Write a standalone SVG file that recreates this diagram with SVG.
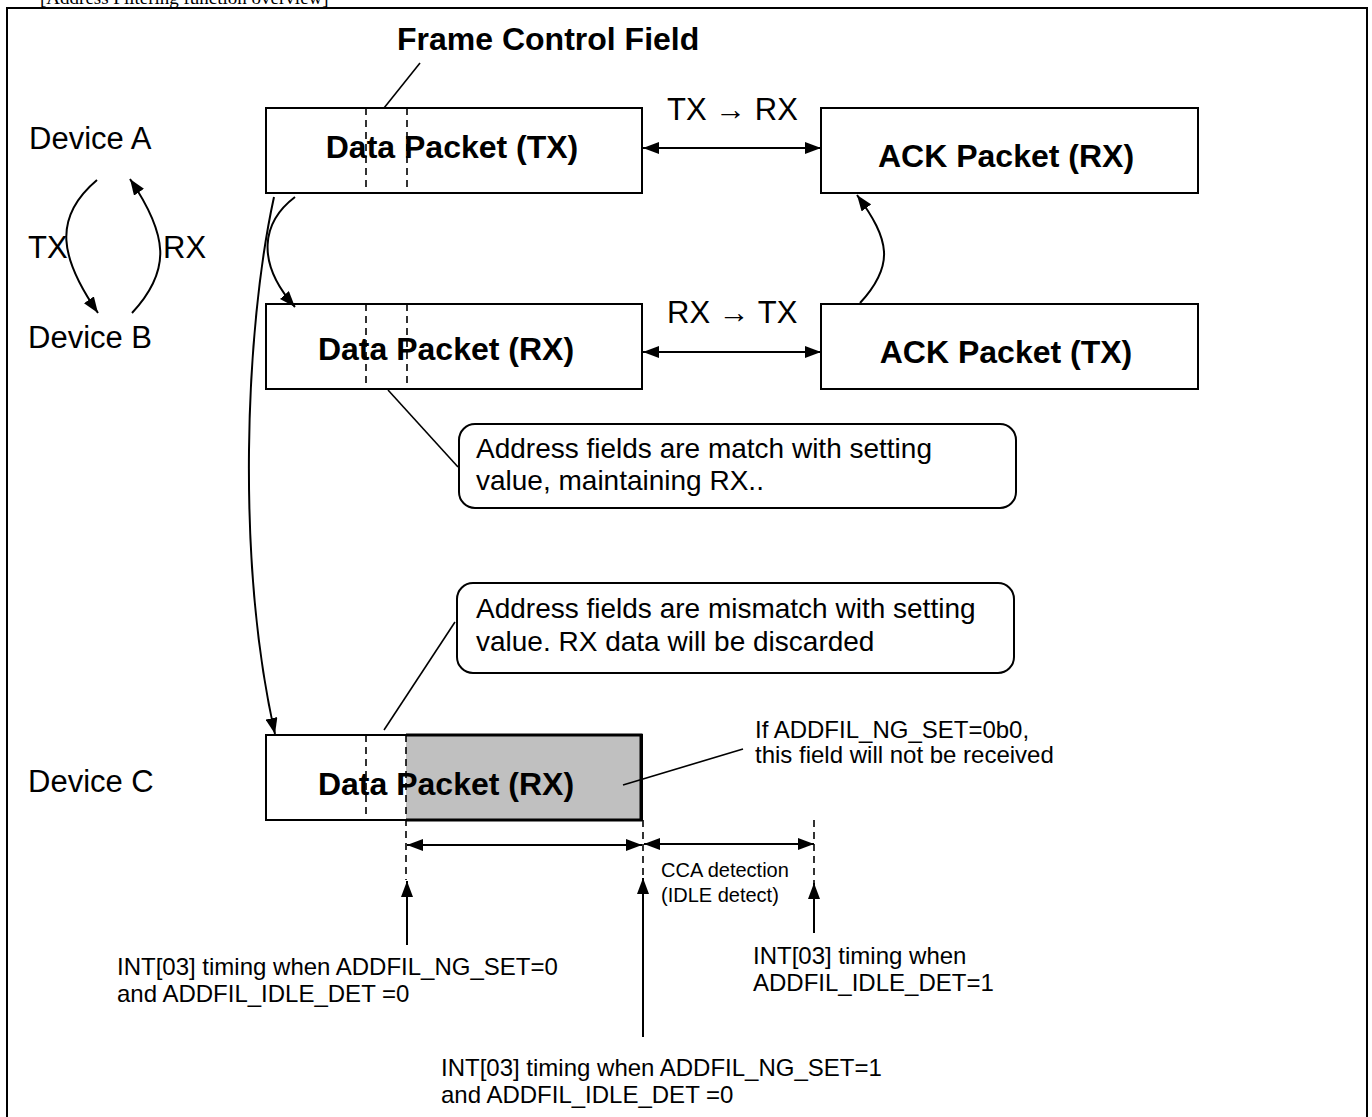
<svg xmlns="http://www.w3.org/2000/svg" width="1372" height="1117" viewBox="0 0 1372 1117">
<style>
.box{fill:#fff;stroke:#000;stroke-width:2}
.dash{stroke:#000;stroke-width:1.6;stroke-dasharray:7,5;fill:none}
.ln{stroke:#000;stroke-width:1.6;fill:none}
.arr{stroke:#000;stroke-width:2;fill:none}
.t{font-family:"Liberation Sans",Arial,sans-serif;fill:#000}
.big{font-size:31px}
.bold{font-size:32px;font-weight:bold}
.call{font-size:28px}
.mid{font-size:24px}
.sm{font-size:20px}
.callout{fill:#fff;stroke:#000;stroke-width:2}
</style>
<defs>
<marker id="ah" viewBox="0 0 16 12" refX="16" refY="6" markerWidth="16" markerHeight="12" markerUnits="userSpaceOnUse" orient="auto-start-reverse"><path d="M0,0 L16,6 L0,12 z" fill="#000"/></marker>
</defs>
<rect width="1372" height="1117" fill="#fff"/>
<g id="frame">
<rect x="7" y="8" width="1360" height="1130" fill="none" stroke="#000" stroke-width="2"/>
<text x="40" y="4" font-family="'Liberation Serif','Times New Roman',serif" font-size="19">[Address Filtering function overview]</text>
</g>
<g id="device-labels">
<text class="t big" x="29" y="149">Device A</text>
<text class="t big" x="28" y="348">Device B</text>
<text class="t big" x="28" y="792">Device C</text>
<text class="t big" x="28" y="258">TX</text>
<text class="t big" x="163" y="258">RX</text>
</g>
<g id="frame-control-label">
<text class="t bold" x="397" y="50">Frame Control Field</text>
</g>
<g id="data-packet-tx">
<rect class="box" x="266" y="108" width="376" height="85"/>
<line class="dash" x1="366" y1="108" x2="366" y2="193"/>
<line class="dash" x1="407" y1="108" x2="407" y2="193"/>
<text class="t bold" x="452" y="158" text-anchor="middle">Data Packet (TX)</text>
</g>
<g id="ack-packet-rx">
<rect class="box" x="821" y="108" width="377" height="85"/>
<text class="t bold" x="1006" y="167" text-anchor="middle">ACK Packet (RX)</text>
</g>
<g id="data-packet-rx-b">
<rect class="box" x="266" y="304" width="376" height="85"/>
<line class="dash" x1="366" y1="304" x2="366" y2="389"/>
<line class="dash" x1="407" y1="304" x2="407" y2="389"/>
<text class="t bold" x="446" y="360" text-anchor="middle">Data Packet (RX)</text>
</g>
<g id="ack-packet-tx">
<rect class="box" x="821" y="304" width="377" height="85"/>
<text class="t bold" x="1006" y="363" text-anchor="middle">ACK Packet (TX)</text>
</g>
<g id="callout-match">
<rect class="callout" x="459" y="424" width="557" height="84" rx="16"/>
<text class="t call" x="476" y="458">Address fields are match with setting</text>
<text class="t call" x="476" y="490">value, maintaining RX..</text>
</g>
<g id="callout-mismatch">
<rect class="callout" x="457" y="583" width="557" height="90" rx="16"/>
<text class="t call" x="476" y="618">Address fields are mismatch with setting</text>
<text class="t call" x="476" y="651">value. RX data will be discarded</text>
</g>
<g id="data-packet-rx-c">
<rect class="box" x="266" y="735" width="376" height="85"/>
<path d="M406,735 H641 V820 H406" fill="#c0c0c0" stroke="#000" stroke-width="3"/>
<line class="dash" x1="366" y1="735" x2="366" y2="820"/>
<line class="dash" x1="406" y1="735" x2="406" y2="880"/>
<line class="dash" x1="643" y1="820" x2="643" y2="878"/>
<line class="dash" x1="814" y1="820" x2="814" y2="883"/>
<text class="t bold" x="446" y="795" text-anchor="middle">Data Packet (RX)</text>
</g>
<g id="annotations">
<text class="t mid" x="755" y="738">If ADDFIL_NG_SET=0b0,</text>
<text class="t mid" x="755" y="763">this field will not be received</text>
<text class="t sm" x="661" y="877">CCA detection</text>
<text class="t sm" x="661" y="902">(IDLE detect)</text>
<text class="t mid" x="117" y="975">INT[03] timing when ADDFIL_NG_SET=0</text>
<text class="t mid" x="117" y="1002">and ADDFIL_IDLE_DET =0</text>
<text class="t mid" x="753" y="964">INT[03] timing when</text>
<text class="t mid" x="753" y="991">ADDFIL_IDLE_DET=1</text>
<text class="t mid" x="441" y="1076">INT[03] timing when ADDFIL_NG_SET=1</text>
<text class="t mid" x="441" y="1103">and ADDFIL_IDLE_DET =0</text>
</g>
<g id="connectors">
<line class="ln" x1="420" y1="63" x2="384" y2="108"/>
<line class="arr" x1="643" y1="148" x2="821" y2="148" marker-start="url(#ah)" marker-end="url(#ah)"/>
<text class="t big" x="667" y="120">TX → RX</text>
<line class="arr" x1="643" y1="352" x2="821" y2="352" marker-start="url(#ah)" marker-end="url(#ah)"/>
<text class="t big" x="667" y="323">RX → TX</text>
<path class="arr" d="M97,180 C52,218 60,258 98,313" marker-end="url(#ah)"/>
<path class="arr" d="M132,313 C172,270 168,235 130,179" marker-end="url(#ah)"/>
<path class="arr" d="M295,197 C262,222 255,262 295,307" marker-end="url(#ah)"/>
<path class="arr" d="M274,197 C245,330 236,560 275,734" marker-end="url(#ah)"/>
<path class="arr" d="M860,303 C895,265 890,240 857,195" marker-end="url(#ah)"/>
<line class="ln" x1="388" y1="390" x2="458" y2="467"/>
<line class="ln" x1="455" y1="622" x2="384" y2="730"/>
<line class="ln" x1="623" y1="785" x2="743" y2="749"/>
<line class="arr" x1="407" y1="845" x2="642" y2="845" marker-start="url(#ah)" marker-end="url(#ah)"/>
<line class="arr" x1="644" y1="844" x2="814" y2="844" marker-start="url(#ah)" marker-end="url(#ah)"/>
<line class="arr" x1="407" y1="945" x2="407" y2="881" marker-end="url(#ah)"/>
<line class="arr" x1="643" y1="1037" x2="643" y2="878" marker-end="url(#ah)"/>
<line class="arr" x1="814" y1="933" x2="814" y2="883" marker-end="url(#ah)"/>
</g>
</svg>
